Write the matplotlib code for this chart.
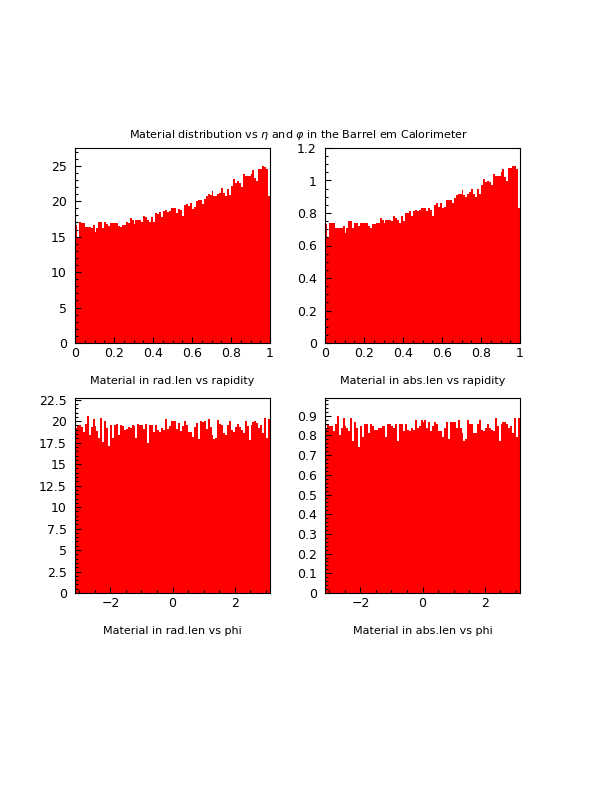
import numpy as np
import matplotlib
matplotlib.use("Agg")
import matplotlib.pyplot as plt
from matplotlib.ticker import MultipleLocator

# material in radiation lengths vs rapidity (100 bins, 0..1)
rad_eta = [16.6, 15.0, 17.1, 16.9, 16.9, 16.3, 16.4, 16.3, 16.2, 16.6,
           15.6, 16.2, 17.0, 17.0, 16.2, 17.0, 16.8, 16.5, 16.9, 16.9,
           16.9, 16.9, 16.5, 16.3, 16.6, 16.6, 17.0, 16.9, 17.6, 17.3,
           16.8, 17.3, 17.3, 17.3, 17.1, 17.9, 17.7, 17.4, 17.0, 17.8,
           17.1, 18.3, 18.2, 18.5, 17.8, 18.6, 18.8, 18.5, 18.6, 19.0,
           19.1, 19.0, 18.4, 18.9, 18.8, 17.9, 19.4, 19.6, 19.3, 19.7,
           18.9, 19.2, 20.0, 20.2, 20.1, 19.6, 20.3, 20.8, 21.0, 20.9,
           21.5, 20.8, 20.7, 21.0, 21.2, 21.8, 21.1, 20.7, 21.7, 20.9,
           22.2, 23.1, 22.5, 22.9, 22.6, 22.0, 23.9, 23.6, 23.6, 23.5,
           23.9, 24.4, 23.3, 22.9, 24.6, 24.6, 24.9, 24.8, 24.5, 20.7]

# material in absorption lengths vs rapidity
abs_eta = [0.73, 0.65, 0.74, 0.74, 0.74, 0.71, 0.71, 0.71, 0.71, 0.72,
           0.68, 0.71, 0.75, 0.75, 0.71, 0.74, 0.74, 0.72, 0.74, 0.74,
           0.74, 0.74, 0.72, 0.71, 0.73, 0.73, 0.74, 0.74, 0.77, 0.76,
           0.74, 0.76, 0.76, 0.76, 0.75, 0.78, 0.77, 0.76, 0.74, 0.78,
           0.75, 0.80, 0.80, 0.81, 0.78, 0.81, 0.82, 0.81, 0.82, 0.83,
           0.83, 0.83, 0.81, 0.83, 0.82, 0.78, 0.85, 0.86, 0.84, 0.86,
           0.83, 0.84, 0.88, 0.88, 0.88, 0.86, 0.89, 0.91, 0.92, 0.92,
           0.94, 0.91, 0.90, 0.92, 0.93, 0.95, 0.92, 0.90, 0.95, 0.92,
           0.97, 1.01, 0.99, 1.00, 0.99, 0.97, 1.04, 1.03, 1.03, 1.03,
           1.05, 1.07, 1.02, 1.00, 1.08, 1.08, 1.09, 1.09, 1.07, 0.83]

# material in radiation lengths vs phi (100 bins, -pi..pi)
rad_phi = [19.2, 19.6, 19.5, 19.3, 18.8, 19.7, 20.6, 18.4, 19.3, 20.3,
           19.4, 18.9, 18.1, 20.4, 17.6, 20.0, 19.2, 17.1, 19.5, 18.1,
           19.6, 19.7, 18.4, 19.6, 19.4, 19.0, 19.1, 19.3, 19.2, 19.6,
           19.4, 18.1, 19.7, 19.6, 19.5, 19.1, 19.7, 17.5, 19.6, 19.6,
           18.8, 19.6, 19.0, 18.8, 19.2, 19.0, 20.3, 19.1, 19.4, 20.0,
           20.0, 20.0, 19.1, 19.8, 18.9, 19.4, 20.0, 19.6, 18.7, 18.8,
           18.2, 19.3, 19.8, 17.9, 20.0, 19.9, 20.0, 19.1, 20.2, 19.3,
           18.4, 17.9, 18.0, 20.1, 19.7, 19.6, 18.6, 18.4, 19.5, 20.0,
           19.0, 18.7, 19.3, 19.7, 19.3, 19.0, 18.6, 20.0, 19.4, 17.8,
           19.5, 19.9, 20.0, 19.8, 19.2, 19.6, 18.6, 20.4, 18.0, 20.3]

# material in absorption lengths vs phi
abs_phi = [0.84, 0.86, 0.85, 0.85, 0.82, 0.86, 0.90, 0.80, 0.84, 0.89,
           0.85, 0.84, 0.82, 0.89, 0.77, 0.87, 0.84, 0.74, 0.85, 0.79,
           0.86, 0.86, 0.81, 0.86, 0.85, 0.83, 0.83, 0.84, 0.84, 0.85,
           0.85, 0.79, 0.86, 0.86, 0.85, 0.84, 0.86, 0.77, 0.86, 0.86,
           0.82, 0.86, 0.83, 0.82, 0.84, 0.83, 0.88, 0.84, 0.85, 0.88,
           0.87, 0.88, 0.84, 0.87, 0.82, 0.85, 0.87, 0.86, 0.82, 0.82,
           0.79, 0.84, 0.87, 0.78, 0.87, 0.87, 0.87, 0.84, 0.88, 0.84,
           0.81, 0.77, 0.78, 0.88, 0.86, 0.86, 0.81, 0.81, 0.86, 0.88,
           0.83, 0.82, 0.84, 0.86, 0.84, 0.83, 0.82, 0.89, 0.85, 0.77,
           0.86, 0.87, 0.87, 0.86, 0.84, 0.85, 0.81, 0.89, 0.79, 0.89]

eta_edges = np.linspace(0, 1, len(rad_eta) + 1)
phi_edges = np.linspace(-np.pi, np.pi, len(rad_phi) + 1)

fig = plt.figure(figsize=(6.12, 7.92), dpi=100)
W, H = 612, 792


def make_axes(x0, y0, x1, y1):
    return fig.add_axes([x0 / W, 1 - y1 / H, (x1 - x0) / W, (y1 - y0) / H])


panels = [
    (make_axes(75, 148, 270, 343), eta_edges, rad_eta, 27.5, 5, 1, 0.2, 0.05,
     "Material in rad.len vs rapidity"),
    (make_axes(325, 148, 520, 343), eta_edges, abs_eta, 1.2, 0.2, 0.05, 0.2, 0.05,
     "Material in abs.len vs rapidity"),
    (make_axes(75, 398, 270, 593), phi_edges, rad_phi, 22.7, 2.5, 0.5, 2, 0.5,
     "Material in rad.len vs phi"),
    (make_axes(325, 398, 520, 593), phi_edges, abs_phi, 0.99, 0.1, 0.02, 2, 0.5,
     "Material in abs.len vs phi"),
]

for ax, edges, vals, ymax, ymaj, ymin, xmaj, xmin, label in panels:
    ax.stairs(vals, edges, fill=True, color="#ff0000", linewidth=0)
    ax.set_xlim(edges[0], edges[-1])
    ax.set_ylim(0, ymax)
    ax.yaxis.set_major_locator(MultipleLocator(ymaj))
    ax.yaxis.set_minor_locator(MultipleLocator(ymin))
    ax.xaxis.set_major_locator(MultipleLocator(xmaj))
    ax.xaxis.set_minor_locator(MultipleLocator(xmin))
    ax.yaxis.set_major_formatter(plt.FuncFormatter(lambda v, p: f"{v:g}"))
    ax.xaxis.set_major_formatter(plt.FuncFormatter(lambda v, p: f"{v:g}".replace("-", "\u2212")))
    ax.tick_params(which="both", direction="in", top=False, right=False,
                   labelsize=9, width=0.8, color="black")
    ax.tick_params(which="major", length=4.5)
    ax.tick_params(which="minor", length=2.5)
    ax.tick_params(axis="y", pad=6)
    ax.tick_params(axis="x", pad=3)
    for s in ax.spines.values():
        s.set_linewidth(0.8)
    ax.set_axisbelow(False)
    pos = ax.get_position()
    fig.text(pos.x0 + pos.width / 2, pos.y0 - 38 / H, label,
             ha="center", va="center", fontsize=8)

fig.text(298 / W, 1 - 135 / H,
         "Material distribution vs $\\eta$ and $\\varphi$ in the Barrel em Calorimeter",
         ha="center", va="center", fontsize=8)

fig.savefig("out.png", dpi=100, facecolor="white")
